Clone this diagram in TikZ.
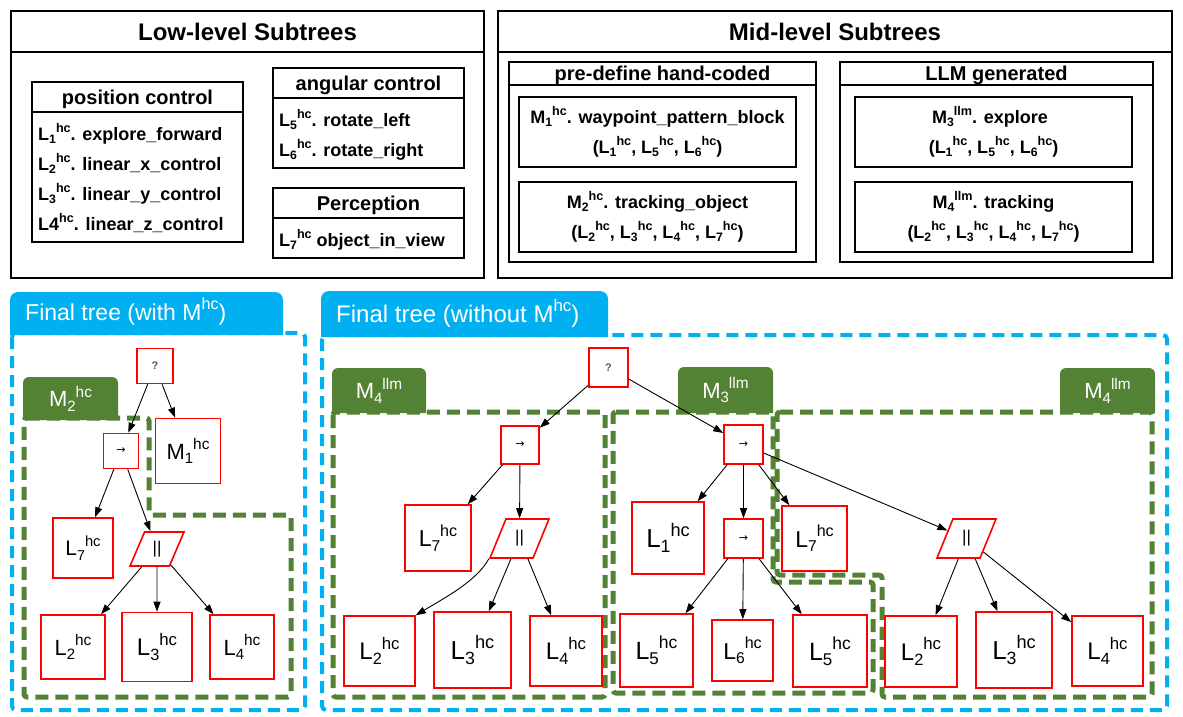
\documentclass[tikz,border=0pt]{standalone}
\usepackage{graphicx}
\usepackage{fontspec}
\setmainfont{Liberation Sans}
\newfontfamily\djv{DejaVu Sans}
\usetikzlibrary{arrows.meta,shapes.geometric}
\definecolor{bblue}{HTML}{00B0F0}
\definecolor{ggreen}{HTML}{548235}
\definecolor{rred}{HTML}{FF0000}
\newcommand{\fsz}[1]{\fontsize{#1}{#1}\selectfont}
\newcommand{\lab}[3]{#1\raisebox{-0.2em}{\scalebox{0.68}{#2}}\raisebox{0.44em}{\scalebox{0.7}{#3}}}
\newcommand{\supx}[2]{#1\raisebox{0.44em}{\scalebox{0.7}{#2}}}
\begin{document}
\begin{tikzpicture}[x=1pt,y=-1pt,
  frame/.style={draw=black,line width=1.5pt},
  ttl/.style={font=\fsz{24}\bfseries,inner sep=0pt,anchor=base},
  hdr/.style={font=\fsz{20}\bfseries,inner sep=0pt,anchor=base},
  itm/.style={font=\fsz{18}\bfseries,inner sep=0pt,anchor=base west},
  mtx/.style={font=\fsz{18}\bfseries,inner sep=0pt,anchor=base},
  bdash/.style={draw=bblue,line width=4pt,dash pattern=on 12pt off 7pt,rounded corners=4pt},
  gdash/.style={draw=ggreen,line width=5pt,dash pattern=on 13pt off 7pt,rounded corners=3pt},
  tabtxt/.style={text=white,font=\fsz{22},inner sep=0pt},
  sz/.style 2 args={minimum width=#1pt,minimum height=#2pt},
  leaf/.style={draw=rred,line width=1.6pt,fill=white,inner sep=0pt,font=\fsz{22}},
  lf/.style n args={3}{leaf,minimum width=#1pt,minimum height=#2pt,font=\fsz{#3}},
  ctl/.style={leaf,font=\fsz{11}},
  par/.style={draw=rred,line width=1.6pt,fill=white,inner sep=0pt,font=\fsz{17},
    trapezium,trapezium left angle=72,trapezium right angle=108,trapezium stretches=true},
  arr/.style={-{Triangle[length=10pt,width=7pt]},line width=0.9pt,black}]
\useasboundingbox (0,0) rectangle (1183,716);
\fill[white] (0,0) rectangle (1183,716);

% ---------- Low-level subtrees ----------
\draw[frame] (11,11) rectangle (484,278);
\draw[frame] (11,52) -- (484,52);
\node[ttl] (lowt) at (247.5,40) {Low-level Subtrees};
\draw[frame] (32,82) rectangle (243,242);
\draw[frame] (32,112) -- (243,112);
\node[hdr] (posh) at (137.5,104) {position control};
\node[itm] (i1) at (38,140) {\lab{L}{1}{hc}. explore\_forward};
\node[itm] (i2) at (38,170) {\lab{L}{2}{hc}. linear\_x\_control};
\node[itm] (i3) at (38,200) {\lab{L}{3}{hc}. linear\_y\_control};
\node[itm] (i4) at (38,230) {\supx{L4}{hc}. linear\_z\_control};
\draw[frame] (273,68) rectangle (464,168);
\draw[frame] (273,98) -- (464,98);
\node[hdr] (angh) at (368.5,90) {angular control};
\node[itm] (i5) at (279,126) {\lab{L}{5}{hc}. rotate\_left};
\node[itm] (i6) at (279,156) {\lab{L}{6}{hc}. rotate\_right};
\draw[frame] (273,188) rectangle (464,258);
\draw[frame] (273,218) -- (464,218);
\node[hdr] (perh) at (368.5,210) {Perception};
\node[itm] (i7) at (279,246) {\lab{L}{7}{hc} object\_in\_view};

% ---------- Mid-level subtrees ----------
\draw[frame] (498,11) rectangle (1172,278);
\draw[frame] (498,52) -- (1172,52);
\node[ttl] (midt) at (835,40) {Mid-level Subtrees};
\draw[frame] (509,62) rectangle (816,262);
\draw[frame] (509,85) -- (816,85);
\node[hdr] (preh) at (662.5,80.5) {pre-define hand-coded};
\draw[frame] (840,62) rectangle (1153,262);
\draw[frame] (840,85) -- (1153,85);
\node[hdr] (llmh) at (996.5,80.5) {LLM generated};
\draw[frame] (519,97) rectangle (796,167);
\draw[frame] (519,182) rectangle (796,252);
\draw[frame] (855,97) rectangle (1132,167);
\draw[frame] (855,182) rectangle (1132,252);
\node[mtx] (m1a) at (657.5,123) {\lab{M}{1}{hc}. waypoint\_pattern\_block};
\node[mtx] (m1b) at (657.5,153) {(\lab{L}{1}{hc}, \lab{L}{5}{hc}, \lab{L}{6}{hc})};
\node[mtx] (m2a) at (657.5,208) {\lab{M}{2}{hc}. tracking\_object};
\node[mtx] (m2b) at (657.5,238) {(\lab{L}{2}{hc}, \lab{L}{3}{hc}, \lab{L}{4}{hc}, \lab{L}{7}{hc})};
\node[mtx] (m3a) at (990,123) {\lab{M}{3}{llm}. explore};
\node[mtx] (m3b) at (993.5,153) {(\lab{L}{1}{hc}, \lab{L}{5}{hc}, \lab{L}{6}{hc})};
\node[mtx] (m4a) at (993.5,208) {\lab{M}{4}{llm}. tracking};
\node[mtx] (m4b) at (993.5,238) {(\lab{L}{2}{hc}, \lab{L}{3}{hc}, \lab{L}{4}{hc}, \lab{L}{7}{hc})};

% ---------- Final tree panels ----------
\draw[bdash] (12,333) rectangle (305,710);
\draw[bdash] (322,335) rectangle (1167,710);
\fill[bblue] (10,335) [rounded corners=8pt] -- (10,292) -- (283,292) [sharp corners] -- (283,335) -- cycle;
\fill[bblue] (321,337) [rounded corners=8pt] -- (321,291) -- (608,291) [sharp corners] -- (608,337) -- cycle;
\node[tabtxt,font=\fsz{23},anchor=base west] (ft1) at (25,320) {Final tree (with \supx{M}{hc})};
\node[tabtxt,font=\fsz{24},anchor=base west] (ft2) at (336,322) {Final tree (without \supx{M}{hc})};

% green regions
\draw[gdash] (24,418) -- (149,418) -- (149,515) -- (291,515) -- (291,697) -- (24,697) -- cycle;
\draw[gdash] (333,412) rectangle (605,697);
\draw[gdash] (613,412) -- (773,412) -- (773,582) -- (873,582) -- (873,693) -- (613,693) -- cycle;
\draw[gdash] (777,412) -- (1152,412) -- (1152,697) -- (882,697) -- (882,575) -- (777,575) -- cycle;

% green tabs
\fill[ggreen] (23,420) [rounded corners=6pt] -- (23,377) -- (118,377) [sharp corners] -- (118,420) -- cycle;
\fill[ggreen] (332,413) [rounded corners=6pt] -- (332,368) -- (426,368) [sharp corners] -- (426,413) -- cycle;
\fill[ggreen] (678,413) [rounded corners=6pt] -- (678,367) -- (773,367) [sharp corners] -- (773,413) -- cycle;
\fill[ggreen] (1060,413) [rounded corners=6pt] -- (1060,368) -- (1155,368) [sharp corners] -- (1155,413) -- cycle;
\node[tabtxt] (tm2) at (70.5,398.5) {\lab{M}{2}{hc}};
\node[tabtxt] (tm4a) at (379,390.5) {\lab{M}{4}{llm}};
\node[tabtxt] (tm3) at (725.5,390) {\lab{M}{3}{llm}};
\node[tabtxt] (tm4b) at (1107.5,390.5) {\lab{M}{4}{llm}};

% ---------- left tree ----------
\node[ctl,sz={36}{35},text=black!65] (q1) at (155,366) {\textbf{?}};
\node[ctl,sz={35}{35}] (s1) at (121,451) {\djv →};
\node[lf={65}{65}{22}] (m1) at (188,451) {\lab{M}{1}{hc}};
\node[lf={60}{60}{21}] (l7a) at (83,548) {\lab{L}{7}{hc}};
\node[par,sz={54}{34}] (p1) at (157,549) {||};
\node[lf={64}{64}{22}] (l2a) at (73,647) {\lab{L}{2}{hc}};
\node[lf={70}{69}{24}] (l3a) at (157,647) {\lab{L}{3}{hc}};
\node[lf={64}{64}{22}] (l4a) at (242,647) {\lab{L}{4}{hc}};
\draw[arr] (q1) -- (s1);
\draw[arr] (q1) -- (m1);
\draw[arr] (s1) -- (l7a);
\draw[arr] (s1) -- (p1);
\draw[arr] (p1) -- (l2a);
\draw[arr] (p1) -- (l3a);
\draw[arr] (p1) -- (l4a);

% ---------- right tree ----------
\node[ctl,sz={39}{39},text=black!65] (q2) at (608.5,367.5) {\textbf{?}};
\node[ctl,sz={38}{38}] (sA) at (520,445) {\djv →};
\node[lf={66}{66}{23}] (l7b) at (438,538) {\lab{L}{7}{hc}};
\node[par,sz={59}{39}] (pA) at (519.5,538.5) {||};
\node[lf={71}{70}{24}] (l2b) at (379.5,651) {\lab{L}{2}{hc}};
\node[lf={77}{76}{26}] (l3b) at (472.5,650) {\lab{L}{3}{hc}};
\node[lf={72}{70}{24}] (l4b) at (566,651) {\lab{L}{4}{hc}};
\node[ctl,sz={39}{39}] (sB) at (743.5,444.5) {\djv →};
\node[lf={72}{72}{26}] (l1) at (668,538) {\lab{L}{1}{hc}};
\node[ctl,sz={39}{39}] (sC) at (743.5,538.5) {\djv →};
\node[lf={65}{65}{23}] (l7c) at (814.5,538.5) {\lab{L}{7}{hc}};
\node[lf={73}{73}{25}] (l5a) at (656.5,650.5) {\lab{L}{5}{hc}};
\node[lf={61}{61}{23}] (l6) at (742.5,650.5) {\lab{L}{6}{hc}};
\node[lf={74}{72}{25}] (l5b) at (830,651) {\lab{L}{5}{hc}};
\node[par,sz={59}{39}] (pB) at (966.5,538.5) {||};
\node[lf={72}{71}{24}] (l2c) at (921,651.5) {\lab{L}{2}{hc}};
\node[lf={76}{76}{26}] (l3c) at (1014,650) {\lab{L}{3}{hc}};
\node[lf={71}{70}{24}] (l4c) at (1107.5,651) {\lab{L}{4}{hc}};

\draw[arr] (q2) -- (sA);
\draw[arr] (q2) -- (sB);
\draw[arr] (sA) -- (l7b);
\draw[arr] (sA) -- (pA);
\draw[arr] (pA.bottom left corner) .. controls +(-12,22) and +(30,-18) .. (l2b.north east);
\draw[arr] (pA) -- (l3b);
\draw[arr] (pA) -- (l4b);
\draw[arr] (sB) -- (l1);
\draw[arr] (sB) -- (sC);
\draw[arr] (sB) -- (l7c);
\draw[arr] (sB) -- (pB);
\draw[arr] (sC) -- (l5a);
\draw[arr] (sC) -- (l6);
\draw[arr] (sC) -- (l5b);
\draw[arr] (pB) -- (l2c);
\draw[arr] (pB) -- (l3c);
\draw[arr] (pB) -- (l4c);
\end{tikzpicture}
\end{document}
